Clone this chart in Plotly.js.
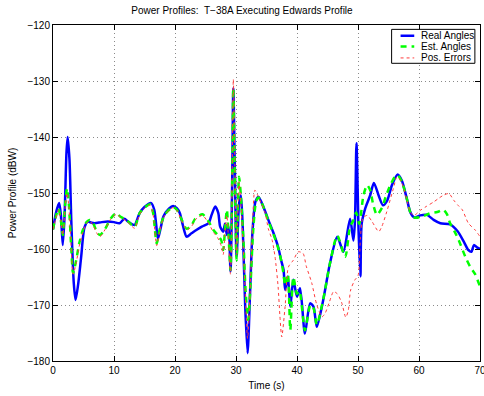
<!DOCTYPE html>
<html>
<head>
<meta charset="utf-8">
<script src="https://cdn.plot.ly/plotly-3.0.1.min.js"></script>
<style>
  html, body { margin: 0; padding: 0; background: #fff; }
  #plot { width: 484px; height: 396px; }
</style>
</head>
<body>
<div id="plot"></div>
<script>
// Received power over the flight, in dBW, sampled at irregular times (s)
const realTime = [0.0,0.5,1.0,1.3,1.6,1.9,2.2,2.4,2.7,3.0,3.4,3.7,4.1,4.6,5.15,5.7,6.3,6.8,8.0,9.0,10.0,10.9,11.7,12.3,13.0,13.4,14.2,15.0,16.1,16.6,16.9,17.2,17.7,18.1,19.0,19.7,20.3,20.8,21.3,21.9,22.7,23.5,24.4,25.5,26.0,26.6,27.1,27.4,27.9,28.2,28.5,28.8,29.1,29.35,29.56,29.8,30.1,30.5,30.8,31.1,31.5,31.9,32.3,32.7,33.2,33.7,34.5,35.3,36.1,36.9,37.4,37.8,38.05,38.5,38.9,39.4,40.0,40.5,41.3,42.15,42.7,43.25,44.3,45.4,46.6,47.6,48.7,49.25,49.5,49.75,50.1,50.4,50.6,51.2,52.0,52.6,53.4,54.1,54.8,55.6,56.5,57.2,58.0,58.6,59.3,60.2,61.3,62.4,63.5,65.1,66.3,67.3,68.1,68.6,69.0,69.5,70.0];
const realPower = [-156.5,-153.5,-151.8,-154,-159.3,-154,-143,-140,-144,-155,-166,-169.1,-166.5,-161.6,-156.2,-155.1,-155.3,-155.4,-155.2,-155.1,-155.2,-155.4,-154.6,-155.1,-155.6,-155.7,-153.6,-152.5,-151.8,-153.0,-155.5,-158.2,-156,-154.2,-152.8,-152.3,-152.7,-153.6,-155.8,-157.8,-157.2,-156.6,-156.0,-155.4,-153.9,-152.4,-153.6,-156.0,-156.9,-155.5,-157.5,-156,-164.0,-150,-131.3,-145,-161.4,-152,-150.4,-156,-170,-178.6,-168,-157,-151.5,-150.7,-152.5,-154.8,-157,-159.6,-162,-163.75,-167.3,-164.9,-170.3,-165.5,-168.5,-167,-175.1,-169.7,-170.3,-173.9,-169.1,-162.6,-157.8,-160.5,-154.6,-158.5,-155,-141.1,-157,-164.9,-155.5,-152.7,-150.4,-148.2,-150.5,-152.2,-151.3,-148.5,-146.7,-147.8,-151,-153.5,-154.4,-154.0,-153.9,-154.8,-155.4,-155.6,-156.8,-158.6,-160.2,-160.5,-159.3,-159.7,-160];

const estTime = [0.0,0.4,0.9,1.3,1.6,2.0,2.3,2.6,3.0,3.3,3.8,4.3,4.9,5.5,6.0,6.6,7.2,7.7,8.5,9.5,10.4,11.0,12.05,12.8,13.4,14.2,15.0,15.9,16.4,17.0,17.5,18.3,19.7,20.3,21.1,21.9,22.7,23.3,24.5,25.5,26.3,27.0,27.6,27.9,28.2,28.5,28.8,29.1,29.35,29.56,29.8,30.1,30.5,30.8,31.2,31.6,32.0,32.4,32.8,33.3,33.7,34.5,35.3,36.1,36.9,37.4,37.8,38.05,38.5,38.9,39.4,40.0,40.4,41.3,42.2,42.7,43.25,44.3,45.4,46.6,47.9,48.7,49.2,49.7,50.2,50.9,51.5,52.0,52.5,53.1,53.9,54.6,55.3,56.0,56.5,57.2,58.0,58.6,59.3,60.2,61.2,61.9,63.0,64.0,64.6,65.1,65.8,66.5,67.6,68.4,69.2,70.0];
const estPower = [-156.5,-154.5,-152.8,-155,-157.5,-152,-149.2,-152,-160,-164.3,-162,-159,-156.6,-155.2,-154.8,-155.4,-157,-157.5,-156.5,-154.5,-153.6,-154.2,-154.8,-155.6,-156.1,-153.6,-152.6,-152.0,-153.5,-159.0,-156.5,-153.9,-152.5,-153,-154.8,-156.4,-155.8,-154.6,-153.8,-155.1,-156.6,-157.5,-158.5,-160.2,-156.5,-153.0,-158,-163.75,-150,-131.3,-146,-162,-147.1,-150.5,-158,-168,-172.7,-166,-157,-151.5,-150.8,-152.5,-155,-157.2,-159.8,-162,-164.5,-166.5,-164.5,-174.5,-165,-168,-167.5,-174.5,-170,-170.5,-173.5,-169,-162.6,-157.6,-161.4,-156,-155,-153.5,-155.5,-150.4,-148.6,-149.5,-152.1,-153.9,-152.7,-150.5,-148.6,-147.2,-146.8,-148,-151,-153.5,-154.4,-154.3,-153.9,-153.6,-153.4,-153.0,-153.8,-155.4,-156.8,-158.4,-161.4,-163.2,-164.5,-166.7];

const errTime = [0.0,0.4,0.9,1.3,1.6,2.0,2.3,2.6,3.0,3.3,3.8,4.3,4.9,5.5,6.0,6.6,7.2,7.7,8.5,9.5,10.4,11.0,12.05,12.8,13.4,14.2,15.0,15.9,16.4,17.0,17.5,18.3,19.7,20.3,21.1,21.9,22.7,23.3,24.5,25.5,26.3,27.0,27.6,27.9,28.2,28.5,28.8,29.1,29.35,29.56,29.8,30.1,30.5,30.8,31.2,31.6,31.9,32.3,32.7,33.1,33.6,34.2,34.8,35.3,35.9,36.4,36.9,37.2,37.5,38.05,38.6,39.4,40.2,41.0,41.5,42.4,43.25,44.1,44.6,45.3,46.0,46.6,47.3,48.0,48.4,48.8,49.5,50.0,50.4,50.8,51.5,52.3,53.4,53.9,54.7,55.8,56.4,57.2,58.0,58.6,59.2,60.2,61.2,62.4,63.3,64.0,64.9,65.7,66.4,67.1,68.1,69.2,70.0];
const errPower = [-156.5,-154.8,-153,-155,-157.5,-152.5,-150,-152.5,-160,-164.5,-162.5,-159.5,-157,-155.4,-155,-155.8,-157.2,-157.8,-156.6,-154.6,-153.8,-154.3,-155,-155.8,-156.3,-153.8,-152.7,-152.2,-153.8,-159.4,-156.8,-154,-152.6,-153.1,-155,-156.6,-156,-154.8,-154,-155.4,-157,-158,-159.5,-161,-157,-154,-159,-164.5,-149,-129.7,-144,-161,-148,-152,-160,-170,-176,-168,-156,-149.5,-150.5,-152,-153.6,-156.4,-158.3,-161.4,-166.7,-172,-175.7,-170.3,-163.2,-162,-160.5,-160.8,-163,-166,-170,-172.1,-171.5,-169.5,-167.6,-168,-169.5,-172.2,-171,-167.3,-165.5,-164.8,-158,-154.5,-154,-155.1,-156.9,-156,-153.4,-149.2,-147.1,-148.2,-151.2,-153.5,-154,-153.1,-152.4,-151.6,-150.9,-150.4,-150.1,-151.3,-152.2,-153,-155.4,-156.6,-157.8];

const xTicks = [0, 10, 20, 30, 40, 50, 60, 70];
const yTicks = [-180, -170, -160, -150, -140, -130, -120];

const seriesNames = ['Real Angles', 'Est. Angles', 'Pos. Errors'];
const seriesLines = [
  { color: 'rgb(0,0,255)', width: 2.5, dash: 'solid' },
  { color: 'rgb(0,255,0)', width: 2.5, dash: '6px,5px' },
  { color: 'rgb(255,60,60)', width: 1, dash: 'dot' }
];
const seriesX = [realTime, estTime, errTime];
const seriesY = [realPower, estPower, errPower];

const font = { family: '"Liberation Sans", Arial, Helvetica, sans-serif', size: 10, color: '#000' };

const traces = seriesNames.map((name, i) => ({
  x: seriesX[i], y: seriesY[i], name: name, mode: 'lines', showlegend: false,
  line: Object.assign({ shape: 'spline', smoothing: 0.7 }, seriesLines[i])
}));

// Boxed key in the upper right corner of the axes (paper coordinates)
const key = { x0: 0.793, x1: 0.988, y0: 0.886, y1: 0.987,
              sx0: 0.814, sx1: 0.846, tx: 0.856, rows: [0.968, 0.936, 0.902] };
const shapes = [{
  type: 'rect', xref: 'paper', yref: 'paper',
  x0: key.x0, x1: key.x1, y0: key.y0, y1: key.y1,
  line: { color: '#000', width: 1 }, fillcolor: '#fff', layer: 'above'
}];
const annotations = [];
seriesNames.forEach((name, i) => {
  shapes.push({
    type: 'line', xref: 'paper', yref: 'paper',
    x0: key.sx0, x1: key.sx1, y0: key.rows[i], y1: key.rows[i],
    line: seriesLines[i], layer: 'above'
  });
  annotations.push({
    xref: 'paper', yref: 'paper', x: key.tx, y: key.rows[i],
    xanchor: 'left', yanchor: 'middle', text: name, showarrow: false,
    font: font
  });
});

const axisCommon = {
  showline: true, linecolor: '#000', linewidth: 1, mirror: 'ticks',
  ticks: 'inside', ticklen: 5, tickcolor: '#000', tickwidth: 1,
  showgrid: true, gridcolor: 'rgba(60,60,60,0.6)', gridwidth: 1, griddash: '1px,3px',
  zeroline: false, tickfont: font, ticklabeloverflow: 'allow'
};

const layout = {
  width: 484, height: 396,
  margin: { l: 53, r: 4, t: 25, b: 35 },
  paper_bgcolor: '#fff', plot_bgcolor: '#fff',
  font: font,
  title: { text: 'Power Profiles:  T\u221238A Executing Edwards Profile',
           font: { family: font.family, size: 10, color: '#000' },
           x: 0.5, xanchor: 'center', y: 0.974, yanchor: 'middle' },
  xaxis: Object.assign({}, axisCommon, {
    range: [0, 70], tickvals: xTicks, ticktext: xTicks.map(String),
    title: { text: 'Time (s)', font: font, standoff: 6 }
  }),
  yaxis: Object.assign({}, axisCommon, {
    range: [-180, -120], tickvals: yTicks,
    ticktext: yTicks.map(v => '\u2212' + Math.abs(v)),
    title: { text: 'Power Profile (dBW)', font: font, standoff: 8 }
  }),
  showlegend: false,
  shapes: shapes,
  annotations: annotations
};

Plotly.newPlot('plot', traces, layout, { displayModeBar: false, staticPlot: true });
</script>
</body>
</html>
